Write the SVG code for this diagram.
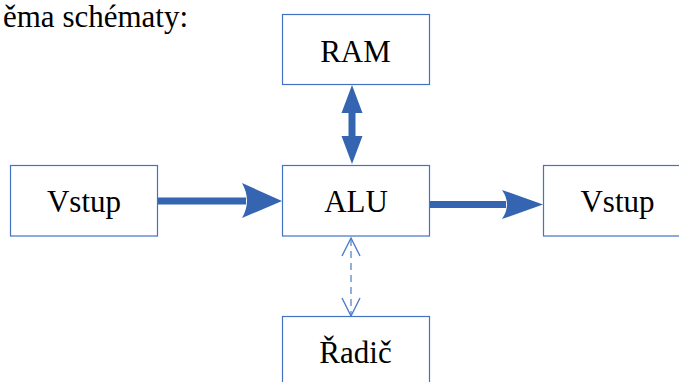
<svg xmlns="http://www.w3.org/2000/svg" width="679" height="382" viewBox="0 0 679 382">
  <style>
    .box { fill: #ffffff; stroke: #4472c4; stroke-width: 1.2; }
    .label { font-family: "Liberation Serif", "DejaVu Serif", serif; font-size: 31px; fill: #000000; text-anchor: middle; }
    .title { font-family: "Liberation Serif", "DejaVu Serif", serif; font-size: 31px; fill: #000000; }
    .bold { fill: #3565b1; }
    .shaft { stroke: #3565b1; stroke-width: 7; fill: none; }
    .dash { stroke: #6f96d3; stroke-width: 1.5; fill: none; stroke-dasharray: 7 5; }
    .open { stroke: #4d7cc6; stroke-width: 1.4; fill: none; }
  </style>
  <rect width="679" height="382" fill="#ffffff"/>

  <text class="title" x="3" y="27">ěma schématy:</text>

  <g id="connectors">
    <!-- Vstup -> ALU -->
    <line class="shaft" x1="157" y1="201" x2="246" y2="201"/>
    <path class="bold" d="M282,201 L242,183 Q252,201 242,218 Z"/>
    <!-- ALU -> Vstup -->
    <line class="shaft" x1="430" y1="204.5" x2="506" y2="204.5"/>
    <path class="bold" d="M543,204.5 L502,190 Q512,204.5 502,219 Z"/>
    <!-- RAM <-> ALU -->
    <line class="shaft" x1="352" y1="108" x2="352" y2="142"/>
    <path class="bold" d="M352,85 L341.5,113 L362.5,113 Z"/>
    <path class="bold" d="M352,164 L341.5,136 L362.5,136 Z"/>
    <!-- Řadič <-> ALU -->
    <line class="dash" x1="351" y1="239" x2="351" y2="315"/>
    <path class="open" d="M342,256 L351,238 L360,256"/>
    <path class="open" d="M342,298 L351,316 L360,298"/>
  </g>

  <g id="ram">
    <rect class="box" x="282.5" y="14.5" width="147" height="70"/>
    <text class="label" x="355.5" y="62">RAM</text>
  </g>
  <g id="alu">
    <rect class="box" x="282.5" y="165.5" width="147" height="70.5"/>
    <text class="label" x="356" y="212">ALU</text>
  </g>
  <g id="vstup-in">
    <rect class="box" x="10.5" y="165.5" width="147" height="70.5"/>
    <text class="label" x="84" y="212">Vstup</text>
  </g>
  <g id="vstup-out">
    <rect class="box" x="543.5" y="165.5" width="147" height="70.5"/>
    <text class="label" x="617.5" y="212">Vstup</text>
  </g>
  <g id="radic">
    <rect class="box" x="282.5" y="316.5" width="147" height="80"/>
    <text class="label" x="355.5" y="363">Řadič</text>
  </g>
</svg>
